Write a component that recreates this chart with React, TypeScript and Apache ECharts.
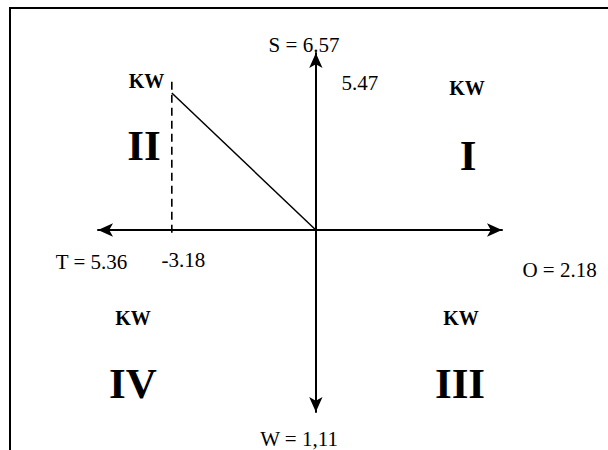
import React, { useEffect, useRef } from "react";
import * as echarts from "echarts";

// Axis extents (data units) – the arrows end at these values
const X_RANGE = [-4.81, 4.11];
const Y_RANGE = [-7.27, 7.07];

// The plotted point and the line back to the origin
const POINT = [-3.18, 5.47];
const ORIGIN = [0, 0];
// dashed drop line from the point down to the x axis
const DROP_LINE = [
  [-3.18, 5.92],
  [-3.18, -0.24],
];

// Axis end labels
const AXIS_END_LABELS = ["S = 6.57", "O = 2.18", "W = 1,11", "T = 5.36"];
// Quadrant labels
const QUADRANTS = ["I", "II", "III", "IV"];
const UNIT = "KW";

const SERIF = "Liberation Serif";

function txt(text: string, x: number, y: number, size: number, bold = false) {
  return {
    type: "text",
    x,
    y,
    silent: true,
    style: {
      text,
      fill: "#000",
      font: `${bold ? "bold " : ""}${size}px "Liberation Serif", serif`,
      align: "center",
      verticalAlign: "middle",
    },
  };
}

export default function App() {
  const ref = useRef<HTMLDivElement>(null);

  useEffect(() => {
    if (!ref.current) return;
    const chart = echarts.init(ref.current, null, { renderer: "svg" });

    const axisLine = {
      show: true,
      onZero: true,
      symbol: ["arrow", "arrow"],
      symbolSize: [10, 15],
      lineStyle: { color: "#000", width: 2 },
    };

    const labelFont = {
      fontFamily: SERIF,
      fontSize: 21,
      color: "#000",
      opacity: 1,
      textBorderWidth: 0,
    };

    const option: any = {
      animation: false,
      backgroundColor: "#fff",
      textStyle: { fontFamily: SERIF, color: "#000" },
      grid: { left: 98, right: 106, top: 53, bottom: 38 },
      xAxis: {
        type: "value",
        min: X_RANGE[0],
        max: X_RANGE[1],
        axisLine,
        axisTick: { show: false },
        axisLabel: { show: false },
        splitLine: { show: false },
      },
      yAxis: {
        type: "value",
        min: Y_RANGE[0],
        max: Y_RANGE[1],
        axisLine,
        axisTick: { show: false },
        axisLabel: { show: false },
        splitLine: { show: false },
      },
      series: [
        {
          type: "line",
          data: [POINT, ORIGIN],
          symbol: "none",
          silent: true,
          lineStyle: { color: "#000", width: 1.5 },
          z: 3,
        },
        {
          type: "line",
          data: DROP_LINE,
          symbol: "none",
          silent: true,
          lineStyle: { color: "#000", width: 1.6, type: [8, 5] },
          z: 3,
        },
        {
          type: "scatter",
          symbol: "circle",
          symbolSize: 0.01,
          silent: true,
          itemStyle: { color: "#000" },
          z: 5,
          data: [
            {
              value: [ORIGIN[0], POINT[1]],
              label: {
                show: true,
                position: "inside",
                offset: [44, -10],
                formatter: (p: any) => p.value[1].toFixed(2),
                ...labelFont,
              },
            },
            {
              value: [POINT[0], ORIGIN[1]],
              label: {
                show: true,
                position: "inside",
                offset: [11.5, 30],
                formatter: (p: any) => p.value[0].toFixed(2),
                ...labelFont,
              },
            },
          ],
        },
      ],
      graphic: [
        // frame
        {
          type: "line",
          silent: true,
          shape: { x1: 10, y1: 8, x2: 608, y2: 8 },
          style: { stroke: "#000", lineWidth: 2 },
        },
        {
          type: "line",
          silent: true,
          shape: { x1: 10, y1: 7, x2: 10, y2: 450 },
          style: { stroke: "#000", lineWidth: 2 },
        },
        // axis end labels
        txt(AXIS_END_LABELS[0], 304, 45, 21),
        txt(AXIS_END_LABELS[1], 559.5, 270, 21),
        txt(AXIS_END_LABELS[2], 299, 438.5, 21),
        txt(AXIS_END_LABELS[3], 91.5, 262, 21),
        // quadrant I
        txt(UNIT, 467, 88, 20, true),
        txt(QUADRANTS[0], 468, 155, 43, true),
        // quadrant II
        txt(UNIT, 146.5, 81, 20, true),
        txt(QUADRANTS[1], 144, 145, 43, true),
        // quadrant III
        txt(UNIT, 461, 318, 20, true),
        txt(QUADRANTS[2], 460, 383, 43, true),
        // quadrant IV
        txt(UNIT, 133, 318, 20, true),
        txt(QUADRANTS[3], 133, 383, 43, true),
      ],
    };

    chart.setOption(option);
    return () => chart.dispose();
  }, []);

  return (
    <div
      ref={ref}
      style={{ position: "absolute", left: 0, top: 0, width: 608, height: 450 }}
    />
  );
}
